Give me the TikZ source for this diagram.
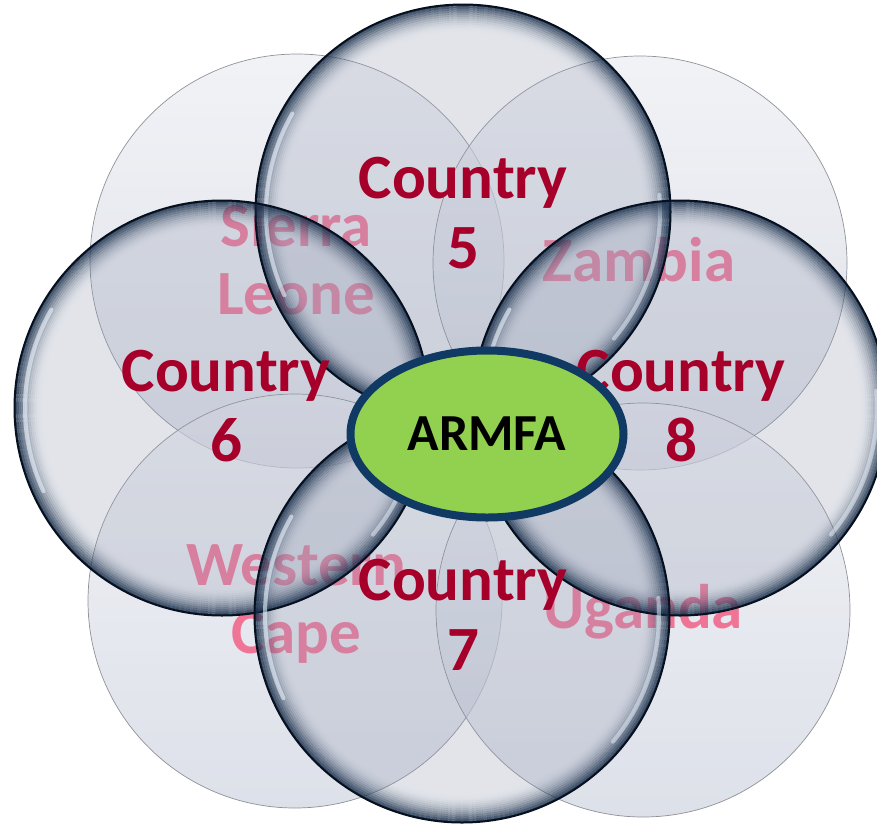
\documentclass[tikz,border=0pt]{standalone}
\usepackage{fontspec}
\setmainfont{Carlito}
\usepackage{xcolor}
\usepackage{tikz}
\usetikzlibrary{shapes.geometric}
\definecolor{ARMFAGreen}{RGB}{146,208,80}
\definecolor{ARMFANavy}{RGB}{16,58,100}
\definecolor{CountryRed}{RGB}{166,0,42}
\definecolor{PlacePink}{RGB}{240,116,150}
\definecolor{BubbleCore}{RGB}{150,158,180}
\definecolor{BubbleRim}{RGB}{22,44,72}
\definecolor{BubbleEdge}{RGB}{6,16,30}
\definecolor{BubbleShine}{RGB}{235,244,255}
\definecolor{BackTop}{RGB}{232,234,240}
\definecolor{BackBottom}{RGB}{198,204,218}
\definecolor{BackEdge}{RGB}{120,122,130}

\begin{document}
\begin{tikzpicture}[
        x=1pt, y=-1pt,
        % --- STYLE CHUNG ---
        bgbubble/.style={
            circle,
            minimum size=414pt,
            inner sep=0pt,
            draw=BackEdge,
            line width=0.7pt,
            top color=BackTop,
            bottom color=BackBottom,
            fill opacity=0.6,
            draw opacity=0.8
        },
        % Bong bong phia truoc
        fgbubble/.style={
            circle,
            minimum size=416pt,
            inner sep=0pt,
            fill=BubbleCore,
            fill opacity=0.28
        },
        % Chu ten nuoc (hong)
        placetext/.style={
            text=PlacePink,
            align=center,
            inner sep=0pt,
            font=\bfseries\fontsize{63}{68}\selectfont
        },
        % Chu Country (do)
        countrytext/.style={
            text=CountryRed,
            align=center,
            inner sep=0pt,
            font=\bfseries\fontsize{63}{70}\selectfont
        },
        % Nut giua
        hubnode/.style={
            ellipse,
            draw=ARMFANavy,
            line width=8pt,
            fill=ARMFAGreen,
            minimum width=273pt,
            minimum height=167pt,
            inner sep=0pt,
            font=\bfseries\fontsize{52}{60}\selectfont
        }
    ]
        \useasboundingbox (0,0) rectangle (877,825);

        % --- VONG NEN ---
        \node[bgbubble] (sierra) at (297,261) {};
        \node[bgbubble] (zambia) at (640,263) {};
        \node[bgbubble] (wcape) at (295,601) {};
        \node[bgbubble] (uganda) at (643,610) {};

        % --- TEN NUOC ---
        \node[placetext] (sierraT) at (296,259) {Sierra\\Leone};
        \node[placetext] (zambiaT) at (639,260) {Zambia};
        \node[placetext] (wcapeT) at (296,604) {Western\\Cape};
        \node[placetext] (ugandaT) at (643,612) {Uganda};

        % --- BONG BONG COUNTRY ---
        \node[fgbubble] (c5) at (463,212) {};
        \node[fgbubble] (c8) at (680,408) {};
        \node[fgbubble] (c6) at (222,408) {};
        \node[fgbubble] (c7) at (462,615) {};

        % vien toi + anh sang
        \foreach \b in {c5, c8, c6, c7} {
            \foreach \k in {0,...,13} {
                \pgfmathsetmacro{\rr}{206.8-2*\k}
                \pgfmathsetmacro{\op}{0.85*pow(1-\k/14,2.2)}
                \draw[BubbleRim, line width=2.1pt, opacity=\op] (\b.center) circle[radius=\rr pt];
            }
            \draw[BubbleShine, opacity=0.6, line width=4pt, line cap=round]
                (\b.center) ++(150:197pt) arc[start angle=150, end angle=205, radius=197pt];
            \draw[BubbleShine, opacity=0.5, line width=4pt, line cap=round]
                (\b.center) ++(-40:197pt) arc[start angle=-40, end angle=5, radius=197pt];
            \draw[BubbleEdge, line width=2pt] (\b.center) circle[radius=207.5pt];
        }

        % --- CHU COUNTRY ---
        \node[countrytext] (c5T) at (463,213) {Country\\5};
        \node[countrytext] (c6T) at (226,406) {Country\\6};
        \node[countrytext] (c8T) at (681,406) {Country\\8};
        \node[countrytext] (c7T) at (463,615) {Country\\7};

        % --- ARMFA ---
        \node[hubnode] (armfa) at (487,434) {ARMFA};

\end{tikzpicture}
\end{document}
